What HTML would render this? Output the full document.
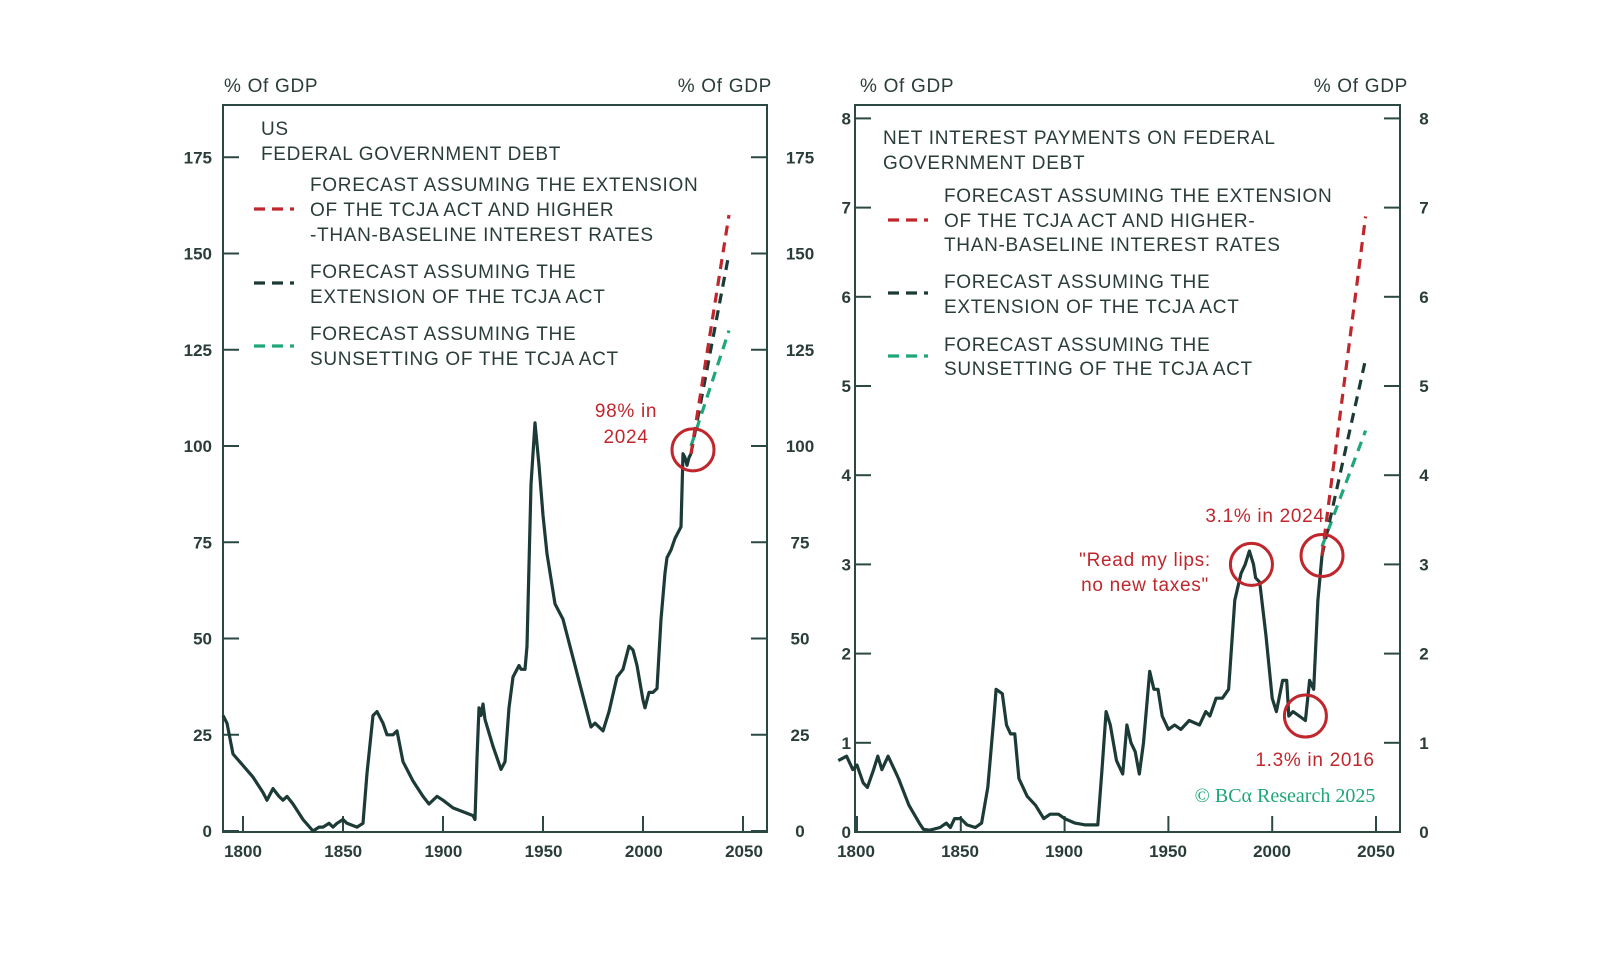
<!DOCTYPE html>
<html><head><meta charset="utf-8"><style>
body{margin:0;background:#fff;}
svg{display:block;font-family:"Liberation Sans",sans-serif;}
</style></head><body>
<svg id="c" width="1600" height="965" viewBox="0 0 1600 965" xmlns="http://www.w3.org/2000/svg"></svg>
<script>
// ---- Left chart data: federal debt % GDP
const debtYears=[1790,1792,1795,1800,1805,1810,1812,1815,1818,1820,1822,1825,1830,1835,1838,1840,1843,1845,1847,1850,1852,1857,1860,1862,1865,1867,1870,1872,1875,1877,1880,1885,1890,1893,1897,1900,1905,1910,1915,1916,1917,1918,1919,1920,1921,1925,1929,1931,1933,1935,1938,1939,1941,1942,1944,1946,1948,1950,1952,1956,1960,1965,1970,1974,1976,1980,1983,1987,1990,1993,1995,1997,2000,2001,2003,2005,2007,2009,2011,2012,2014,2016,2019,2020,2021,2022,2023,2024];
const debtValues=[30,28,20,17,14,10,8,11,9,8,9,7,3,0,1,1,2,1,2,3,2,1,2,15,30,31,28,25,25,26,18,13,9,7,9,8,6,5,4,3,19,32,30,33,29,22,16,18,32,40,43,42,42,48,90,106,95,82,72,59,55,45,35,27,28,26,31,40,42,48,47,43,34,32,36,36,37,55,67,71,73,76,79,98,97,95,97,98];
const debtFcYears=[2024,2043];
const debtFcRed=[98,160];
const debtFcDark=[98,150];
const debtFcGreen=[100,130];
const debtTicks=[0,25,50,75,100,125,150,175];
// ---- Right chart data: net interest % GDP
const intYears=[1791,1795,1798,1800,1803,1805,1808,1810,1812,1815,1818,1820,1825,1830,1832,1835,1840,1843,1845,1847,1850,1853,1857,1860,1863,1866,1867,1870,1872,1874,1876,1878,1882,1886,1890,1893,1897,1900,1905,1910,1916,1918,1920,1922,1925,1928,1930,1932,1934,1936,1938,1941,1943,1945,1947,1950,1953,1956,1960,1965,1968,1970,1973,1976,1979,1982,1985,1987,1989,1991,1992,1994,1997,2000,2002,2005,2007,2008,2010,2013,2016,2018,2020,2022,2024];
const intValues=[0.8,0.85,0.7,0.75,0.55,0.5,0.7,0.85,0.7,0.85,0.7,0.6,0.3,0.1,0.03,0.02,0.05,0.1,0.05,0.15,0.15,0.08,0.05,0.1,0.5,1.3,1.6,1.55,1.2,1.1,1.1,0.6,0.4,0.3,0.15,0.2,0.2,0.15,0.1,0.08,0.08,0.7,1.35,1.2,0.8,0.65,1.2,1.0,0.9,0.65,1.0,1.8,1.6,1.6,1.3,1.15,1.2,1.15,1.25,1.2,1.35,1.3,1.5,1.5,1.6,2.6,2.9,3.0,3.15,3.0,2.85,2.8,2.2,1.5,1.35,1.7,1.7,1.3,1.35,1.3,1.25,1.7,1.6,2.6,3.1];
const intFcYears=[2024,2045];
const intFcRed=[3.1,6.9];
const intFcDark=[3.1,5.3];
const intFcGreen=[3.2,4.5];
const intTicks=[0,1,2,3,4,5,6,7,8];
const xTickYears=[1800,1850,1900,1950,2000,2050];

const NS="http://www.w3.org/2000/svg";
const svg=document.getElementById('c');
const DARK="#1c3a36",FRAME="#2b4843",RED="#c0272d",GREEN="#1fa67a",TXT="#2a3d3a";
function mk(tag,attrs,parent){const e=document.createElementNS(NS,tag);for(const k in attrs)e.setAttribute(k,attrs[k]);(parent||svg).appendChild(e);return e;}
function txt(s,x,y,attrs){const t=mk('text',Object.assign({x:x,y:y,fill:TXT,'font-size':17},attrs||{}));t.textContent=s;return t;}

const L={x0:223,x1:767,y0:105,y1:832};
const lx=y=>243+(y-1800)*2.0;
const ly=v=>831-v*3.85;
const R={x0:855,x1:1400,y0:105,y1:832};
const rx=y=>857+(y-1800)*2.076;
const ry=v=>832-v*89.2;

function frame(P,name){const r=mk('rect',{x:P.x0,y:P.y0,width:P.x1-P.x0,height:P.y1-P.y0,fill:'none',stroke:FRAME,'stroke-width':2});
}
frame(L,'left-plot-frame');frame(R,'right-plot-frame');

function yAxis(P,ticks,yf,name,lblL,lblR){
  ticks.forEach(v=>{const y=yf(v);
    const a=mk('line',{x1:P.x0,x2:P.x0+16,y1:y,y2:y,stroke:FRAME,'stroke-width':2});
    
    const b=mk('line',{x1:P.x1-16,x2:P.x1,y1:y,y2:y,stroke:FRAME,'stroke-width':2});
    
    const t1=txt(String(v),lblL,y+6,{'text-anchor':'end','font-weight':'bold'});
    
    const t2=txt(String(v),lblR,y+6,{'text-anchor':'middle','font-weight':'bold'});
    
  });
}
yAxis(L,debtTicks,ly,'left-y-axis',212,800);
yAxis(R,intTicks,ry,'right-y-axis',851,1424);

function xAxis(P,xf,name,lblShift){
  xTickYears.forEach((yr,i)=>{const x=xf(yr);
    const l=mk('line',{x1:x,x2:x,y1:P.y1,y2:P.y1-16,stroke:FRAME,'stroke-width':2});
    
    const t=txt(String(yr),x+lblShift(i),857,{'text-anchor':'middle','font-weight':'bold'});
    
  });
}
xAxis(L,lx,'left-x-axis',i=>0+i*0.2);
xAxis(R,rx,'right-x-axis',i=>-1+i*0.2);

function line(xs,vs,xf,yf,color,dash,name){
  const d=xs.map((x,i)=>(i?'L':'M')+xf(x).toFixed(1)+' '+yf(vs[i]).toFixed(1)).join(' ');
  const p=mk('path',{d:d,fill:'none',stroke:color,'stroke-width':3.2,'stroke-linejoin':'round'});
  if(dash)p.setAttribute('stroke-dasharray',dash);
  
}
line(debtYears,debtValues,lx,ly,DARK,null,'debt-series');
line(debtFcYears,debtFcGreen,lx,ly,GREEN,'10 7','debt-forecast-sunset');
line(debtFcYears,debtFcDark,lx,ly,DARK,'10 7','debt-forecast-extension');
line(debtFcYears,debtFcRed,lx,ly,RED,'10 7','debt-forecast-higher-rates');
line(intYears,intValues,rx,ry,DARK,null,'interest-series');
line(intFcYears,intFcGreen,rx,ry,GREEN,'10 7','interest-forecast-sunset');
line(intFcYears,intFcDark,rx,ry,DARK,'10 7','interest-forecast-extension');
line(intFcYears,intFcRed,rx,ry,RED,'10 7','interest-forecast-higher-rates');

function circ(x,y,name){const c=mk('circle',{cx:x,cy:y,r:21,fill:'none',stroke:RED,'stroke-width':3});
}
circ(lx(2025),ly(99),'circle-2024-debt');
circ(rx(1990),ry(3.0),'circle-1990');
circ(rx(2024),ry(3.1),'circle-2024-interest');
circ(rx(2016),ry(1.3),'circle-2016');

const T=[
 ['% Of GDP',224,92,'start','left-unit-left',TXT],['% Of GDP',772,92,'end','left-unit-right',TXT],
 ['% Of GDP',860,92,'start','right-unit-left',TXT],['% Of GDP',1408,92,'end','right-unit-right',TXT],
 ['US',261,135,'start','left-title',TXT],['FEDERAL GOVERNMENT DEBT',261,160,'start','left-title-2',TXT],
 ['FORECAST ASSUMING THE EXTENSION',310,191,'start','left-legend-red',TXT],['OF THE TCJA ACT AND HIGHER',310,216,'start','left-legend-red',TXT],['-THAN-BASELINE INTEREST RATES',310,241,'start','left-legend-red',TXT],
 ['FORECAST ASSUMING THE',310,278,'start','left-legend-dark',TXT],['EXTENSION OF THE TCJA ACT',310,303,'start','left-legend-dark',TXT],
 ['FORECAST ASSUMING THE',310,340,'start','left-legend-green',TXT],['SUNSETTING OF THE TCJA ACT',310,365,'start','left-legend-green',TXT],
 ['NET INTEREST PAYMENTS ON FEDERAL',883,144,'start','right-title',TXT],['GOVERNMENT DEBT',883,169,'start','right-title-2',TXT],
 ['FORECAST ASSUMING THE EXTENSION',944,202,'start','right-legend-red',TXT],['OF THE TCJA ACT AND HIGHER-',944,227,'start','right-legend-red',TXT],['THAN-BASELINE INTEREST RATES',944,251,'start','right-legend-red',TXT],
 ['FORECAST ASSUMING THE',944,288,'start','right-legend-dark',TXT],['EXTENSION OF THE TCJA ACT',944,313,'start','right-legend-dark',TXT],
 ['FORECAST ASSUMING THE',944,351,'start','right-legend-green',TXT],['SUNSETTING OF THE TCJA ACT',944,375,'start','right-legend-green',TXT],
 ['98% in',626,417,'middle','annot-98',RED],['2024',626,443,'middle','annot-98',RED],
 ['3.1% in 2024',1265,522,'middle','annot-31',RED],
 ['"Read my lips:',1145,566,'middle','annot-lips',RED],['no new taxes"',1145,591,'middle','annot-lips',RED],
 ['1.3% in 2016',1315,766,'middle','annot-13',RED]
];
T.forEach(a=>{const t=txt(a[0],a[1],a[2],{'text-anchor':a[3],fill:a[5],'font-size':19,'letter-spacing':'0.7px'});
 });
const cr=txt('© BCα Research 2025',1285,802,{'text-anchor':'middle',fill:GREEN,'font-size':20,'font-family':'"Liberation Serif",serif'});


function dash(x,y,c,name){const l=mk('line',{x1:x,x2:x+40,y1:y,y2:y,stroke:c,'stroke-width':3.2,'stroke-dasharray':'11 7'});
}
dash(254,209,RED,'left-legend-red-swatch');dash(254,283,DARK,'left-legend-dark-swatch');dash(254,346,GREEN,'left-legend-green-swatch');
dash(888,220,RED,'right-legend-red-swatch');dash(888,293,DARK,'right-legend-dark-swatch');dash(888,356,GREEN,'right-legend-green-swatch');
</script>
</body></html>
